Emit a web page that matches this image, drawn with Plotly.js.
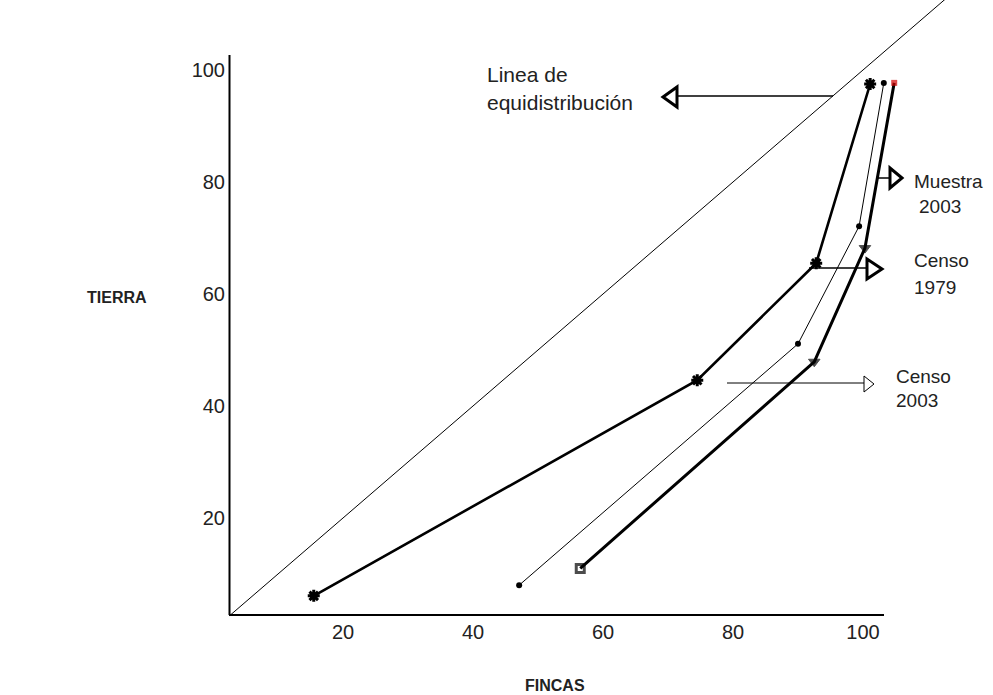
<!DOCTYPE html>
<html>
<head>
<meta charset="utf-8">
<script src="https://cdn.plot.ly/plotly-3.0.1.min.js"></script>
<style>html,body{margin:0;padding:0;background:#fff;}#chart{width:993px;height:695px;}</style>
</head>
<body>
<div id="chart"></div>
<script>
// ---- data (percent of farms vs percent of land) ----
const fincasCenso1979 = [15.5, 74.5, 92.8, 101.1];
const tierraCenso1979 = [6.1, 44.6, 65.5, 97.5];
const fincasCenso2003 = [47.1, 90.0, 99.4, 103.2];
const tierraCenso2003 = [8.0, 51.1, 72.1, 97.7];
const fincasMuestra2003 = [56.5, 92.5, 100.3, 104.8];
const tierraMuestra2003 = [11.0, 47.9, 68.2, 97.7];
const equidistX = [2.6, 120];
const equidistY = [2.6, 120];
const xTickVals = [20, 40, 60, 80, 100];
const yTickVals = [20, 40, 60, 80, 100];
const xTitle = 'FINCAS';
const yTitle = 'TIERRA';

// ---- geometry helpers (pixel -> paper) ----
const W = 993, H = 695, ML = 226, MR = 33, MT = 0, MB = 77;
const PW = W - ML - MR, PH = H - MT - MB;
const px = v => (v - ML) / PW;
const py = v => (H - MB - v) / PH;
const XMIN = 2.0, XMAX = XMIN + PW / 6.5;
const YMIN = 2.143, YMAX = YMIN + PH / 5.6;

const TICKFONT = {family: 'Liberation Sans, Arial, sans-serif', size: 20, color: '#222'};
const TXT = 'Liberation Sans, Arial, sans-serif';

const traces = [
  {x: equidistX, y: equidistY, mode: 'lines', line: {color: '#000', width: 1}, hoverinfo: 'skip'},
  {x: fincasCenso2003, y: tierraCenso2003, mode: 'lines+markers',
   line: {color: '#000', width: 1}, marker: {symbol: 'circle', size: 6, color: '#000'}},
  {x: fincasMuestra2003, y: tierraMuestra2003, mode: 'lines+markers',
   line: {color: '#000', width: 3},
   marker: {symbol: ['square-open', 'triangle-down', 'triangle-down', 'square'], size: [8, 10, 10, 6],
            color: ['#000', '#000', '#000', '#d00000'], line: {width: [3, 1, 1, 0], color: '#000'}}},
  {x: fincasCenso1979, y: tierraCenso1979, mode: 'lines+markers',
   line: {color: '#000', width: 2.6},
   marker: {symbol: 'asterisk-open', size: 10, line: {color: '#000', width: 3}}}
];

function hline(x0, x1, y, w) {
  return {type: 'line', xref: 'paper', yref: 'paper', x0: px(x0), x1: px(x1), y0: py(y), y1: py(y), line: {color: '#000', width: w}};
}
function tri(tipX, tipY, baseX, baseY0, baseY1, w) {
  return {type: 'path', xref: 'paper', yref: 'paper',
    path: `M ${px(tipX)} ${py(tipY)} L ${px(baseX)} ${py(baseY0)} L ${px(baseX)} ${py(baseY1)} Z`,
    fillcolor: '#fff', line: {color: '#000', width: w}};
}

const shapes = [
  {type: 'line', xref: 'paper', yref: 'paper', x0: px(229.5), x1: px(229.5), y0: py(615), y1: py(55), line: {color: '#000', width: 2}},
  {type: 'line', xref: 'paper', yref: 'paper', x0: px(229), x1: px(884), y0: py(615), y1: py(615), line: {color: '#000', width: 2}},
  hline(677, 833, 96, 1.5), tri(663, 97, 677, 87, 107, 3),
  hline(878, 890, 178, 1.5), tri(902, 178, 890, 168, 188, 3),
  hline(809, 867, 268, 1.5), tri(882, 269, 867, 259, 279, 3),
  hline(727, 864, 383, 1), tri(874, 384, 864, 376, 392, 1)
];

function label(text, x, y, size, anchor, bold) {
  return {xref: 'paper', yref: 'paper', x: px(x), y: py(y), text: bold ? '<b>' + text + '</b>' : text,
    showarrow: false, xanchor: anchor || 'left', yanchor: 'middle',
    font: {family: TXT, size: size, color: '#222'}};
}

const annotations = [
  label('Linea de', 485, 75, 21),
  label('equidistribución', 485, 102, 21),
  label('Muestra', 912, 181, 19),
  label('2003', 917, 206, 19),
  label('Censo', 912, 260, 19),
  label('1979', 912, 287, 19),
  label('Censo', 894, 376, 19),
  label('2003', 894, 400, 19),
  label(yTitle, 117, 297, 16, 'center', true),
  label(xTitle, 555, 685, 16, 'center', true)
];

const layout = {
  width: W, height: H,
  margin: {l: ML, r: MR, t: MT, b: MB, pad: 0},
  paper_bgcolor: '#fff', plot_bgcolor: '#fff',
  showlegend: false,
  xaxis: {range: [XMIN, XMAX], showgrid: false, zeroline: false, showline: false,
          tickmode: 'array', tickvals: xTickVals, ticks: '', tickfont: TICKFONT, fixedrange: true},
  yaxis: {range: [YMIN, YMAX], showgrid: false, zeroline: false, showline: false,
          tickmode: 'array', tickvals: yTickVals, ticks: '', tickfont: TICKFONT, fixedrange: true},
  shapes: shapes,
  annotations: annotations
};

Plotly.newPlot('chart', traces, layout, {staticPlot: true, displayModeBar: false});
</script>
</body>
</html>
